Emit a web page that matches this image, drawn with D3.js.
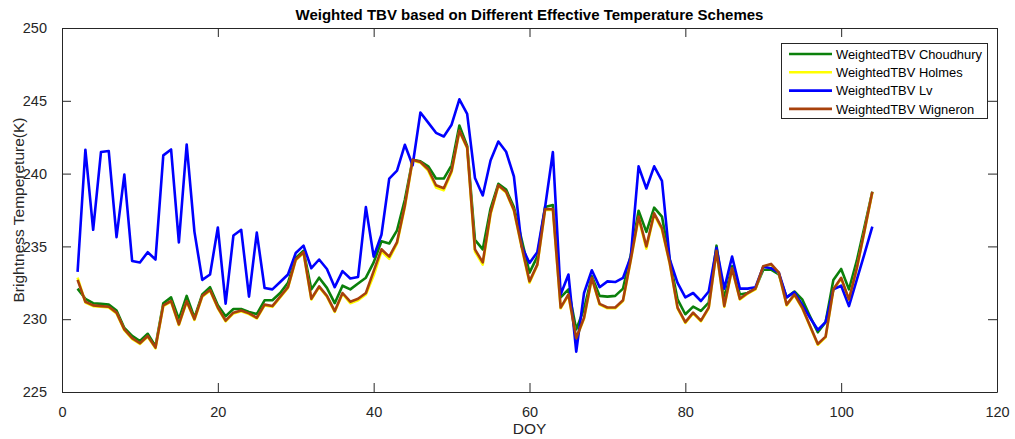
<!DOCTYPE html>
<html>
<head>
<meta charset="utf-8">
<script src="https://cdn.jsdelivr.net/npm/d3@7"></script>
<style>
  html, body { margin: 0; padding: 0; background: #fff; }
  svg { display: block; font-family: "Liberation Sans", Arial, Helvetica, sans-serif; }
</style>
</head>
<body>
<svg id="chart" width="1015" height="439"></svg>
<script>
// Day of year for each observation
const doy = d3.range(2, 105);

// Weighted TBV (K) for each effective-temperature scheme
const choudhury = [
  232.1, 231.4, 231.1, 231.05, 231.0, 230.6, 229.4, 228.85, 228.5, 229.0,
  228.15, 231.1, 231.5, 230.0, 231.6, 230.1, 231.7, 232.2, 230.95, 230.2,
  230.7, 230.7, 230.5, 230.35, 231.3, 231.3, 231.8, 232.5, 234.2, 234.7,
  232.05, 232.85, 232.15, 231.1, 232.3, 232.05, 232.45, 232.85, 233.9, 235.35,
  235.2, 236.1, 238.2, 240.95, 240.85, 240.5, 239.66, 239.66, 240.57, 243.3,
  241.9, 235.45, 234.8, 237.6, 239.3, 238.9, 237.7, 235.45, 233.2, 234.3,
  237.7, 237.84, 231.5, 232.05, 229.3, 230.7, 232.95, 231.6, 231.55, 231.6,
  232.1, 234.4, 237.45, 236.0, 237.66, 237.05, 234.1, 231.36, 230.34, 230.86,
  230.57, 231.14, 235.05, 231.4, 233.64, 231.7, 231.8, 232.1, 233.4, 233.4,
  233.07, 231.5, 231.9, 231.36, 230.2, 229.1, 229.8, 232.7, 233.45, 232.05,
  234.0, 236.36, 238.75
];
const holmes = [
  232.85, 231.15, 230.9, 230.85, 230.8, 230.4, 229.25, 228.65, 228.3, 228.8,
  228.0, 230.9, 231.2, 229.6, 231.2, 229.95, 231.55, 231.95, 230.75, 229.85,
  230.4, 230.55, 230.35, 230.05, 230.95, 230.85, 231.5, 232.15, 234.05, 234.55,
  231.35, 232.2, 231.55, 230.5, 231.75, 231.1, 231.3, 231.7, 233.0, 234.65,
  234.15, 235.2, 237.7, 240.9, 240.75, 240.2, 239.05, 238.85, 240.1, 242.9,
  241.75, 234.65, 233.75, 237.2, 239.15, 238.7, 237.45, 234.9, 232.5, 233.7,
  237.5, 237.5, 230.75, 231.65, 228.65, 230.05, 232.8, 231.0, 230.75, 230.75,
  231.25, 234.05, 236.95, 234.85, 237.2, 236.15, 233.8, 230.75, 229.75, 230.4,
  229.85, 230.75, 234.65, 230.85, 233.45, 231.35, 231.75, 232.05, 233.6, 233.75,
  233.15, 230.95, 231.65, 230.75, 229.5, 228.25, 228.75, 232.0, 232.8, 231.3,
  233.45, 236.05, 238.7
];
const lv = [
  233.25, 241.64, 236.14, 241.48, 241.55, 235.64, 239.93, 234.0, 233.9, 234.6,
  234.1, 241.25, 241.66, 235.27, 242.0, 236.0, 232.7, 233.07, 236.3, 231.07,
  235.75, 236.14, 231.55, 235.95, 232.14, 232.05, 232.55, 233.07, 234.55, 235.05,
  233.5, 234.1, 233.45, 232.2, 233.3, 232.8, 232.9, 237.7, 234.3, 235.8,
  239.66, 240.2, 241.98, 240.57, 244.2, 243.5, 242.8, 242.55, 243.36, 245.1,
  244.1, 239.7, 238.5, 240.9, 242.2, 241.5, 239.8, 235.0, 233.86, 234.6,
  237.7, 241.48, 231.7, 233.07, 227.77, 231.8, 233.36, 232.2, 232.6, 232.55,
  232.84, 234.3, 240.5, 238.98, 240.5, 239.5, 234.1, 232.5, 231.5, 231.8,
  231.25, 231.9, 234.9, 232.1, 234.3, 232.1, 232.1, 232.2, 233.6, 233.5,
  233.2, 231.5, 231.86, 231.0, 230.1, 229.27, 229.8, 232.05, 232.3, 230.9,
  232.7, 234.5, 236.36
];
const wigneron = [
  232.7, 231.2, 230.95, 230.9, 230.85, 230.45, 229.3, 228.7, 228.35, 228.85,
  228.05, 230.95, 231.25, 229.65, 231.25, 230.0, 231.6, 232.0, 230.8, 229.9,
  230.45, 230.6, 230.4, 230.1, 231.0, 230.9, 231.55, 232.2, 234.1, 234.6,
  231.4, 232.25, 231.6, 230.55, 231.8, 231.2, 231.4, 231.8, 233.3, 234.8,
  234.3, 235.3, 237.8, 240.95, 240.8, 240.3, 239.2, 239.0, 240.2, 242.95,
  241.8, 234.8, 233.9, 237.3, 239.2, 238.75, 237.5, 235.0, 232.6, 233.75,
  237.55, 237.57, 230.8, 231.7, 228.7, 230.1, 232.84, 231.05, 230.8, 230.8,
  231.3, 234.1, 237.05, 235.0, 237.27, 236.25, 233.86, 230.8, 229.8, 230.45,
  229.9, 230.8, 234.7, 230.9, 233.5, 231.4, 231.8, 232.1, 233.64, 233.8,
  233.2, 231.0, 231.7, 230.8, 229.55, 228.3, 228.8, 232.05, 232.84, 231.36,
  233.5, 236.1, 238.75
];

const seriesNames = ["WeightedTBV Choudhury", "WeightedTBV Holmes", "WeightedTBV Lv", "WeightedTBV Wigneron"];
const seriesColors = ["#0b800b", "#ffff00", "#0000ff", "#a8410c"];
const seriesValues = [choudhury, holmes, lv, wigneron];

const xTicks = [0, 20, 40, 60, 80, 100, 120];
const yTicks = [225, 230, 235, 240, 245, 250];

const titleText = "Weighted TBV based on Different Effective Temperature Schemes";
const xLabel = "DOY";
const yLabel = "Brightness Tempereture(K)";

// Layout
const plotLeft = 62, plotRight = 997, plotTop = 28, plotBottom = 392;
const svg = d3.select("#chart");
const axisColor = "#262626";
const lineWidth = 2.6;

const x = d3.scaleLinear().domain([0, 120]).range([plotLeft, plotRight]);
const y = d3.scaleLinear().domain([225, 250]).range([plotBottom, plotTop]);

// Series lines
const line = d3.line()
  .x((d, i) => x(doy[i]))
  .y(d => y(d));

const plot = svg.append("g");
seriesValues.forEach((vals, k) => {
  plot.append("path")
    .datum(vals)
    .attr("fill", "none")
    .attr("stroke", seriesColors[k])
    .attr("stroke-width", lineWidth)
    .attr("stroke-linejoin", "round")
    .attr("d", line);
});

// Axes (ticks pointing inward, boxed)
const tickLen = 9;
const xAxisB = d3.axisBottom(x).tickValues(xTicks).tickSize(-tickLen).tickPadding(tickLen + 6).tickSizeOuter(0);
const xAxisT = d3.axisTop(x).tickValues(xTicks).tickSize(-tickLen).tickFormat("").tickSizeOuter(0);
const yAxisL = d3.axisLeft(y).tickValues(yTicks).tickSize(-tickLen).tickPadding(tickLen + 6).tickSizeOuter(0);
const yAxisR = d3.axisRight(y).tickValues(yTicks).tickSize(-tickLen).tickFormat("").tickSizeOuter(0);

function styleAxis(g) {
  g.selectAll("path.domain").attr("stroke", axisColor).attr("stroke-width", 1);
  g.selectAll(".tick line").attr("stroke", axisColor).attr("stroke-width", 1);
  g.selectAll(".tick text").attr("fill", axisColor).attr("font-size", 14.5)
    .attr("font-family", "'Liberation Sans', Arial, sans-serif");
}

svg.append("g").attr("transform", `translate(0,${plotBottom})`).call(xAxisB).call(styleAxis);
svg.append("g").attr("transform", `translate(0,${plotTop})`).call(xAxisT).call(styleAxis);
svg.append("g").attr("transform", `translate(${plotLeft},0)`).call(yAxisL).call(styleAxis);
svg.append("g").attr("transform", `translate(${plotRight},0)`).call(yAxisR).call(styleAxis);

// Title and axis labels
svg.append("text")
  .attr("x", (plotLeft + plotRight) / 2).attr("y", 20)
  .attr("text-anchor", "middle")
  .attr("font-size", 15).attr("font-weight", "bold").attr("fill", "#000")
  .text(titleText);

svg.append("text")
  .attr("x", (plotLeft + plotRight) / 2).attr("y", 434)
  .attr("text-anchor", "middle")
  .attr("font-size", 15.5).attr("fill", axisColor)
  .text(xLabel);

svg.append("text")
  .attr("transform", `translate(24,${(plotTop + plotBottom) / 2}) rotate(-90)`)
  .attr("text-anchor", "middle")
  .attr("font-size", 15.5).attr("fill", axisColor)
  .text(yLabel);

// Legend
const lgX = 781, lgY = 43, lgW = 206, lgH = 75, rowH = 18.3;
const legend = svg.append("g");
legend.append("rect")
  .attr("x", lgX + 0.5).attr("y", lgY + 0.5).attr("width", lgW).attr("height", lgH)
  .attr("fill", "#fff").attr("stroke", axisColor).attr("stroke-width", 1);
seriesNames.forEach((name, k) => {
  const cy = lgY + 11 + k * rowH;
  legend.append("line")
    .attr("x1", lgX + 8).attr("x2", lgX + 51).attr("y1", cy).attr("y2", cy)
    .attr("stroke", seriesColors[k]).attr("stroke-width", lineWidth);
  legend.append("text")
    .attr("x", lgX + 55).attr("y", cy + 4.6)
    .attr("font-size", 12.9).attr("fill", "#000")
    .text(name);
});
</script>
</body>
</html>
